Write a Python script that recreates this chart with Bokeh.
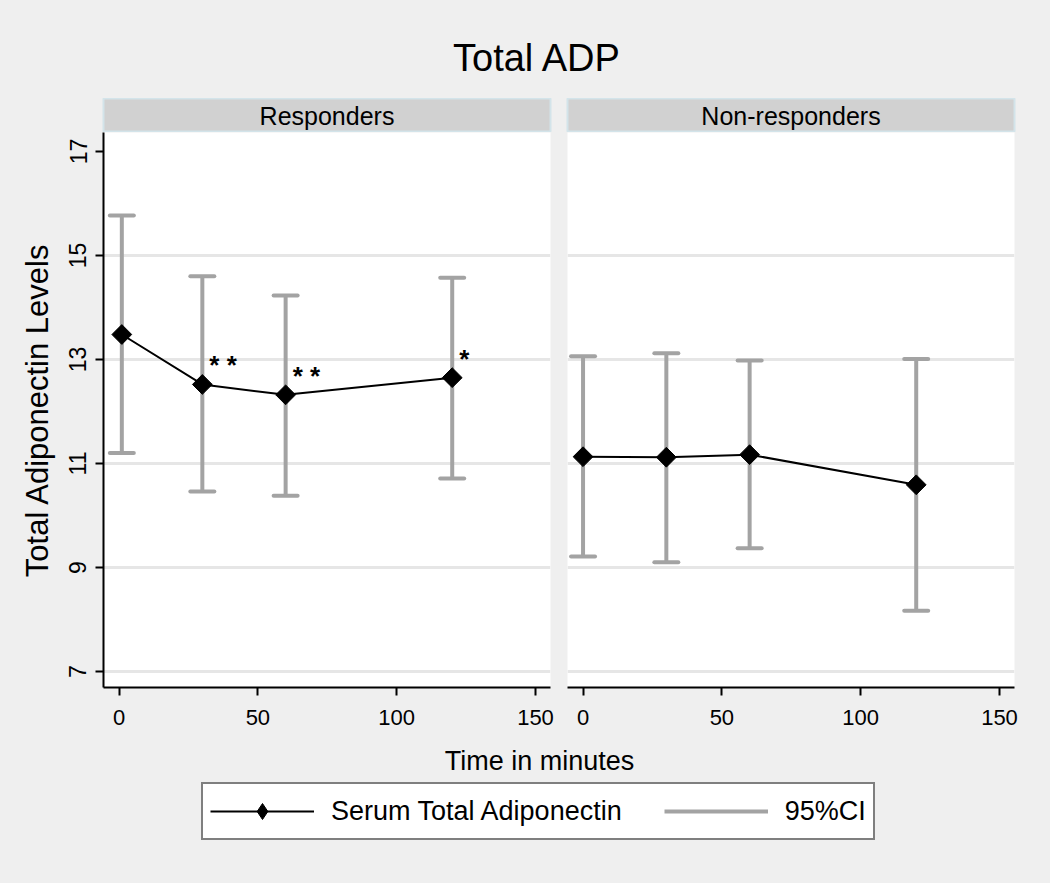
import math
from bokeh.plotting import figure
from bokeh.layouts import column, row
from bokeh.models import (Range1d, FixedTicker, Whisker, TeeHead, ColumnDataSource,
                          Label, Legend, LegendItem)
from bokeh.core.properties import value
from bokeh.embed import file_html
from bokeh.resources import INLINE

# ---------------- data ----------------
title_text = "Total ADP"
panel_names = ["Responders", "Non-responders"]
y_label = "Total Adiponectin Levels"
x_label = "Time in minutes"
legend_labels = ["Serum Total Adiponectin", "95%CI"]

time_resp = [1, 30, 60, 120]
mean_resp = [13.48, 12.52, 12.32, 12.65]
lower_resp = [11.20, 10.46, 10.38, 10.71]
upper_resp = [15.77, 14.60, 14.23, 14.57]
signif_resp = ["", "**", "**", "*"]

time_non = [0, 30, 60, 120]
mean_non = [11.13, 11.12, 11.17, 10.59]
lower_non = [9.21, 9.10, 9.37, 8.17]
upper_non = [13.06, 13.12, 12.98, 13.01]
signif_non = ["", "", "", ""]

x_ticks = [0, 50, 100, 150]
y_ticks = [7, 9, 11, 13, 15, 17]

# ---------------- style ----------------
FONT = "Liberation Sans"
BG = "#efefef"
CI_COLOR = "#a3a3a3"
X_RANGE = (-5.6, 155.4)
Y_RANGE = (6.692, 17.365)
TOP_H = 98
STRIP_H = 34
PANEL_H = 608
BOTTOM_H = 143
TOTAL_W = 1050


def make_strip(name, width, left_b, right_b):
    s = figure(width=width, height=STRIP_H, x_range=Range1d(0, 1), y_range=Range1d(0, 1),
               output_backend="svg", toolbar_location=None,
               x_axis_location=None, y_axis_location=None,
               min_border_left=left_b, min_border_right=right_b,
               min_border_top=0, min_border_bottom=0,
               background_fill_color="#d1d1d1", border_fill_color=BG,
               outline_line_color="#d3e4ea", outline_line_width=2)
    s.grid.visible = False
    s.add_layout(Label(x=0.5, y=0.5, text=name, text_align="center", text_baseline="middle",
                       text_font=FONT, text_font_size="25px", text_color="black"))
    return s


def make_panel(t, m, lo, hi, sig, width, left_b, right_b, show_y):
    p = figure(width=width, height=PANEL_H,
               x_range=Range1d(*X_RANGE), y_range=Range1d(*Y_RANGE),
               output_backend="svg", toolbar_location=None,
               y_axis_location="left" if show_y else None,
               min_border_left=left_b, min_border_right=right_b,
               min_border_top=0, min_border_bottom=53,
               background_fill_color="white", border_fill_color=BG,
               outline_line_color=None)

    # x axis
    p.xaxis.ticker = FixedTicker(ticks=x_ticks)
    p.xaxis.axis_line_color = "black"
    p.xaxis.axis_line_width = 2
    p.xaxis.major_tick_line_color = "black"
    p.xaxis.major_tick_line_width = 2
    p.xaxis.major_tick_out = 8
    p.xaxis.major_tick_in = 0
    p.xaxis.minor_tick_line_color = None
    p.xaxis.major_label_text_font = FONT
    p.xaxis.major_label_text_font_size = "22px"
    p.xaxis.major_label_text_color = "black"
    p.xaxis.major_label_standoff = 14
    p.xgrid.visible = False

    if show_y:
        p.yaxis.ticker = FixedTicker(ticks=y_ticks)
        p.yaxis.axis_line_color = "black"
        p.yaxis.axis_line_width = 2
        p.yaxis.major_tick_line_color = "black"
        p.yaxis.major_tick_line_width = 2
        p.yaxis.major_tick_out = 8
        p.yaxis.major_tick_in = 0
        p.yaxis.minor_tick_line_color = None
        p.yaxis.major_label_orientation = "vertical"
        p.yaxis.major_label_text_font = FONT
        p.yaxis.major_label_text_font_size = "23px"
        p.yaxis.major_label_text_color = "black"
        p.yaxis.major_label_standoff = 9
        p.yaxis.axis_label = y_label
        p.yaxis.axis_label_text_font = FONT
        p.yaxis.axis_label_text_font_size = "31px"
        p.yaxis.axis_label_text_font_style = "normal"
        p.yaxis.axis_label_text_color = "black"
        p.yaxis.axis_label_standoff = 12

    p.ygrid.ticker = FixedTicker(ticks=[v for v in y_ticks if v < 17])
    p.ygrid.grid_line_color = "#e6e6e6"
    p.ygrid.grid_line_width = 3

    src = ColumnDataSource(dict(t=t, m=m, lo=lo, hi=hi,
                                sig=[" ".join(list(s)) for s in sig]))
    whisk = Whisker(source=src, base="t", lower="lo", upper="hi", dimension="height",
                    line_color=CI_COLOR, line_width=4,
                    upper_head=TeeHead(size=24, line_color=CI_COLOR, line_width=4, line_cap="round"),
                    lower_head=TeeHead(size=24, line_color=CI_COLOR, line_width=4, line_cap="round"))
    p.add_layout(whisk)
    p.line("t", "m", source=src, line_color="black", line_width=2)
    p.scatter("t", "m", source=src, marker="square", size=14, angle=math.pi / 4,
              fill_color="black", line_color="black")
    p.text("t", "m", text="sig", source=src, x_offset=7, y_offset=-19,
           text_font=value(FONT), text_font_size="26px", text_font_style="bold",
           text_align="left", text_baseline="middle", text_color="black")
    return p


W1 = 558
s1 = make_strip(panel_names[0], W1, 103, 8)
s2 = make_strip(panel_names[1], TOTAL_W - W1, 9, 36)
p1 = make_panel(time_resp, mean_resp, lower_resp, upper_resp, signif_resp,
                width=W1, left_b=103, right_b=8, show_y=True)
p2 = make_panel(time_non, mean_non, lower_non, upper_non, signif_non,
                width=TOTAL_W - W1, left_b=9, right_b=36, show_y=False)

# ---------------- title strip ----------------
pt = figure(width=TOTAL_W, height=TOP_H, x_range=Range1d(0, TOTAL_W), y_range=Range1d(0, TOP_H),
            output_backend="svg", toolbar_location=None, min_border=0,
            x_axis_location=None, y_axis_location=None,
            background_fill_color=BG, border_fill_color=BG, outline_line_color=None)
pt.grid.visible = False
pt.add_layout(Label(x=537, y=TOP_H - 57, text=title_text, text_align="center",
                    text_baseline="middle", text_font=FONT, text_font_size="38px",
                    text_color="black"))

# ---------------- bottom: x label + legend ----------------
pb = figure(width=TOTAL_W, height=BOTTOM_H, x_range=Range1d(0, TOTAL_W),
            y_range=Range1d(0, BOTTOM_H),
            output_backend="svg", toolbar_location=None, min_border=0,
            x_axis_location=None, y_axis_location=None,
            background_fill_color=BG, border_fill_color=BG, outline_line_color=None)
pb.grid.visible = False
pb.extra_y_ranges = {"hidden": Range1d(1000, 1001)}
pb.add_layout(Label(x=539, y=BOTTOM_H - 20, text=x_label, text_align="center",
                    text_baseline="middle", text_font=FONT, text_font_size="27px",
                    text_color="black"))

# legend proxies: same series, drawn on a range that keeps them out of view
r_line = pb.line(time_resp, mean_resp, y_range_name="hidden", line_color="black", line_width=2)
r_mark = pb.scatter(time_resp, mean_resp, y_range_name="hidden", marker="diamond", size=20,
                    fill_color="black", line_color="black")
r_ci = pb.segment(x0=time_resp, y0=lower_resp, x1=time_resp, y1=upper_resp,
                  y_range_name="hidden", line_color=CI_COLOR, line_width=4)
legend = Legend(items=[LegendItem(label=legend_labels[0], renderers=[r_line, r_mark]),
                       LegendItem(label=legend_labels[1], renderers=[r_ci])],
                orientation="horizontal", location=(201, 43), margin=0, padding=7,
                spacing=42, glyph_width=104, glyph_height=40, label_standoff=17,
                label_text_font=FONT, label_text_font_size="27px", label_text_color="black",
                border_line_color="black", border_line_width=2,
                background_fill_color="white", background_fill_alpha=1)
pb.add_layout(legend)

layout = column(pt, row(column(s1, p1), column(s2, p2)), pb)
layout.styles = {"background-color": BG}
p = layout

open("out.html", "w").write(file_html(p, INLINE))
